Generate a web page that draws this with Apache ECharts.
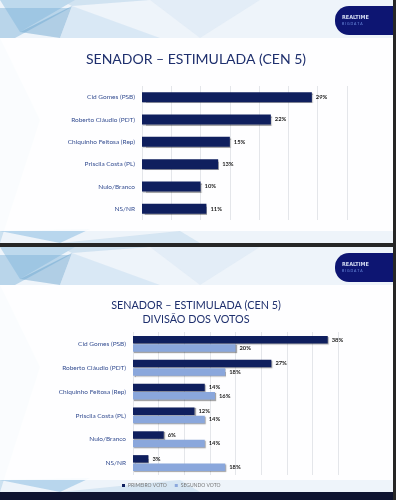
<!DOCTYPE html>
<html>
<head>
<meta charset="utf-8">
<script src="https://cdn.jsdelivr.net/npm/echarts@6/dist/echarts.min.js"></script>
<style>
  html, body { margin: 0; padding: 0; background: #e9f1f8; }
  #chart { width: 396px; height: 500px; }
</style>
</head>
<body>
<div id="chart"></div>
<script>
// values
var categories = ['Cid Gomes (PSB)', 'Roberto Cláudio (PDT)', 'Chiquinho Feitosa (Rep)', 'Priscila Costa (PL)', 'Nulo/Branco', 'NS/NR'];
var estimulada = [29, 22, 15, 13, 10, 11];
var primeiroVoto = [38, 27, 14, 12, 6, 3];
var segundoVoto = [20, 18, 16, 14, 14, 18];
var seriesNames = ['PRIMEIRO VOTO', 'SEGUNDO VOTO'];
var title1 = 'SENADOR – ESTIMULADA (CEN 5)';
var title2 = 'SENADOR – ESTIMULADA (CEN 5)\nDIVISÃO DOS VOTOS';

var navy = '#0f1f5e';
var lightBlue = '#8aa7dc';
var font = 'Lato';

var myChart = echarts.init(document.getElementById('chart'));

// background pattern for one slide, offset by y0
function slideBg(y0, h) {
  return [
    { type: 'rect', shape: { x: 0, y: y0, width: 396, height: h }, style: { fill: '#eef4fa' } },
    { type: 'polygon', shape: { points: [[0, y0], [75, y0], [20, y0 + 32]] }, style: { fill: 'rgba(150,195,225,0.55)' } },
    { type: 'polygon', shape: { points: [[0, y0 + 8], [70, y0 + 8], [15, y0 + 38], [0, y0 + 38]] }, style: { fill: 'rgba(120,175,215,0.45)' } },
    { type: 'polygon', shape: { points: [[20, y0 + 32], [72, y0 + 6], [60, y0 + 38]] }, style: { fill: 'rgba(100,160,205,0.45)' } },
    { type: 'polygon', shape: { points: [[60, y0], [150, y0], [72, y0 + 6]] }, style: { fill: 'rgba(190,215,235,0.6)' } },
    { type: 'polygon', shape: { points: [[72, y0 + 6], [160, y0 + 38], [60, y0 + 38]] }, style: { fill: 'rgba(200,222,240,0.55)' } },
    { type: 'polygon', shape: { points: [[150, y0], [260, y0], [200, y0 + 38]] }, style: { fill: 'rgba(215,230,243,0.5)' } },
    { type: 'polygon', shape: { points: [[0, y0 + 38], [40, y0 + 120], [0, y0 + h]] }, style: { fill: 'rgba(170,205,230,0.5)' } },
    { type: 'polygon', shape: { points: [[0, y0 + h - 12], [90, y0 + h - 14], [60, y0 + h]] }, style: { fill: 'rgba(140,190,225,0.55)' } },
    { type: 'polygon', shape: { points: [[60, y0 + h], [180, y0 + h - 12], [200, y0 + h]] }, style: { fill: 'rgba(190,215,235,0.5)' } },
    { type: 'rect', shape: { x: 0, y: y0 + 38, width: 396, height: h - 50 }, style: { fill: 'rgba(255,255,255,0.9)' } },
    { type: 'rect', shape: { x: 335, y: y0 + 6, width: 61, height: 29, r: [14, 0, 0, 14] }, style: { fill: '#0d1572' } },
    { type: 'text', style: { x: 342, y: y0 + 15, text: 'REALTIME', fontSize: 5.5, fontWeight: 'bold', fontFamily: 'DejaVu Sans Condensed', fill: '#d4dcf2' } },
    { type: 'text', style: { x: 342, y: y0 + 21.5, text: 'B I G D A T A', fontSize: 3.5, fontFamily: font, fill: '#6d8ee0' } }
  ];
}

var graphics = []
  .concat(slideBg(0, 243))
  .concat(slideBg(247, 245))
  .concat([
    { type: 'rect', shape: { x: 0, y: 243, width: 396, height: 4 }, style: { fill: '#262626' } },
    { type: 'rect', shape: { x: 0, y: 492, width: 396, height: 8 }, style: { fill: '#0f1430' } },
    { type: 'rect', shape: { x: 393, y: 0, width: 3, height: 500 }, style: { fill: '#262626' } }
  ]);
graphics.forEach(function (g) { g.silent = true; g.z = -10; });

function catAxis(gridIndex) {
  return {
    type: 'category', gridIndex: gridIndex, data: categories, inverse: true,
    axisLine: { show: false }, axisTick: { show: false },
    axisLabel: { color: '#344d91', fontSize: 6.5, fontFamily: font, margin: 7 }
  };
}
function valAxis(gridIndex, max) {
  return {
    type: 'value', gridIndex: gridIndex, min: 0, max: max, interval: 5,
    axisLabel: { show: false }, axisLine: { show: false }, axisTick: { show: false },
    splitLine: { lineStyle: { color: '#e4e6ea', width: 1 } }
  };
}
var valLabel = { show: true, position: 'right', formatter: '{c}%', fontSize: 5.8, fontWeight: 'bold', color: '#1c1c1c', fontFamily: font, distance: 4 };
var shadow = { shadowColor: 'rgba(0,0,0,0.35)', shadowOffsetX: 1, shadowOffsetY: 1, shadowBlur: 1 };

option = {
  backgroundColor: '#e9f1f8',
  animation: false,
  graphic: graphics,
  title: [
    { text: title1, left: 191, top: 47, textAlign: 'center',
      textStyle: { color: '#1e2f6d', fontSize: 14, fontWeight: 'normal', fontFamily: font } },
    { text: title2, left: 191, top: 294, textAlign: 'center',
      textStyle: { color: '#1e2f6d', fontSize: 10.8, fontWeight: 'normal', fontFamily: font, lineHeight: 14 } }
  ],
  legend: {
    data: seriesNames, left: 117, top: 478, icon: 'rect', itemWidth: 3, itemHeight: 3, itemGap: 8,
    textStyle: { fontSize: 5, color: '#777', fontFamily: font, padding: [0, 0, 0, -2] }
  },
  grid: [
    { left: 142, top: 86, width: 205, height: 134 },
    { left: 133, top: 332, width: 205, height: 143 }
  ],
  xAxis: [valAxis(0, 35), valAxis(1, 40)],
  yAxis: [catAxis(0), catAxis(1)],
  series: [
    { type: 'bar', xAxisIndex: 0, yAxisIndex: 0, data: estimulada, barWidth: 10,
      itemStyle: Object.assign({ color: navy }, shadow), label: valLabel },
    { type: 'bar', name: seriesNames[0], xAxisIndex: 1, yAxisIndex: 1, data: primeiroVoto, barWidth: 7.5, barGap: '12%',
      itemStyle: Object.assign({ color: navy }, shadow), label: valLabel },
    { type: 'bar', name: seriesNames[1], xAxisIndex: 1, yAxisIndex: 1, data: segundoVoto, barWidth: 7.5, barGap: '12%',
      itemStyle: Object.assign({ color: lightBlue }, shadow), label: valLabel }
  ]
};
if (option && typeof option === 'object') {
  myChart.setOption(option, true);
}
</script>
</body>
</html>
